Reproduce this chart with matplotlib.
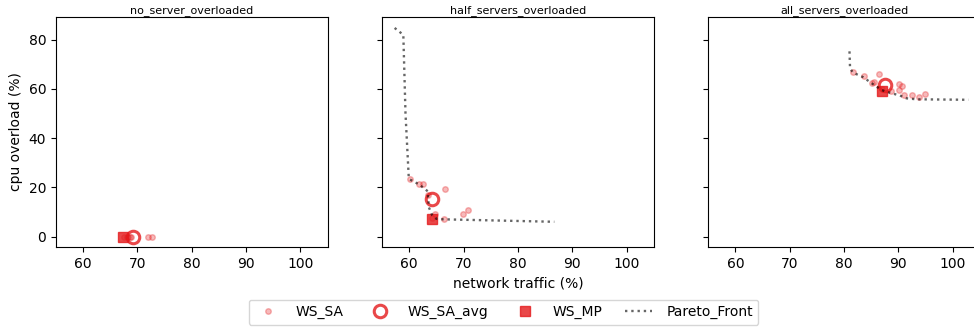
import matplotlib
matplotlib.use('Agg')
import matplotlib.pyplot as plt
from matplotlib.lines import Line2D

titles = ['no_server_overloaded', 'half_servers_overloaded', 'all_servers_overloaded']

# WS_SA single runs (network traffic, cpu overload)
sa_x = [
    [67.6, 68.0, 68.3, 68.6, 68.9, 72.0, 72.6],
    [60.1, 61.8, 62.5, 66.6, 64.7, 69.9, 70.8, 64.2, 66.3, 63.5],
    [81.6, 83.6, 85.1, 85.6, 86.4, 86.9, 88.7, 90.1, 90.7, 90.1, 91.0, 92.5, 93.8, 94.9],
]
sa_y = [
    [0, 0, 0, 0, 0, 0, 0],
    [23.2, 21.2, 21.3, 19.4, 9.3, 9.3, 10.6, 7.5, 7.0, 17.0],
    [66.7, 65.1, 62.5, 62.7, 66.1, 60.0, 59.0, 62.1, 61.0, 59.4, 57.7, 57.7, 56.7, 58.1],
]

# WS_SA average
avg_x = [69.1, 64.1, 87.6]
avg_y = [0.0, 15.3, 61.5]

# WS_MP
mp_x = [67.4, 64.1, 86.9]
mp_y = [0.0, 7.2, 59.0]

# Pareto front
pf_x = [
    [67.4],
    [57.3, 58.9, 59.3, 59.9, 60.1, 61.8, 63.4, 63.6, 64.2, 65.0, 66.3, 86.7],
    [81.0, 81.1, 81.6, 83.5, 85.1, 86.8, 87.6, 90.3, 91.5, 93.3, 102.9],
]
pf_y = [
    [0.0],
    [84.8, 82.0, 50.0, 24.0, 23.2, 21.2, 18.4, 11.9, 8.7, 7.2, 7.0, 6.0],
    [75.3, 68.5, 66.7, 64.8, 62.3, 59.7, 59.0, 57.3, 56.2, 55.8, 55.6],
]

red = '#e41a1c'

fig = plt.figure(figsize=(9.74, 3.31), dpi=100)
axes = fig.subplots(1, 3, sharey=True)
fig.subplots_adjust(left=0.0575, right=1.006, top=0.9486, bottom=0.2538, wspace=0.201)

for i, ax in enumerate(axes):
    ax.scatter(sa_x[i], sa_y[i], s=16, color=red, alpha=0.3, zorder=2)
    ax.plot(avg_x[i], avg_y[i], 'o', ms=9, mfc='none', mec=red, mew=2.2, alpha=0.8, zorder=3)
    ax.plot(mp_x[i], mp_y[i], 's', ms=7.5, color=red, alpha=0.8, zorder=3)
    ax.plot(pf_x[i], pf_y[i], ':', color='black', alpha=0.6, lw=1.7, zorder=4)
    ax.set_title(titles[i], fontsize=8, pad=3)
    ax.set_xlim(55, 105)
    ax.set_xticks([60, 70, 80, 90, 100])
    ax.tick_params(labelsize=10)

axes[0].set_ylim(-4.25, 89.25)
axes[0].set_yticks([0, 20, 40, 60, 80])
axes[0].set_ylabel('cpu overload (%)', fontsize=10)
axes[1].set_xlabel('network traffic (%)', fontsize=10)

handles = [
    Line2D([], [], ls='none', marker='o', ms=4, color=red, alpha=0.3),
    Line2D([], [], ls='none', marker='o', ms=9, mfc='none', mec=red, mew=2.2, alpha=0.8),
    Line2D([], [], ls='none', marker='s', ms=7.5, color=red, alpha=0.8),
    Line2D([], [], ls=':', color='black', alpha=0.6, lw=1.7),
]
labels = ['WS_SA', 'WS_SA_avg', 'WS_MP', 'Pareto_Front']
fig.legend(handles, labels, loc='center', bbox_to_anchor=(0.517, 0.057), ncol=4,
           fontsize=10, columnspacing=1.6, handletextpad=1.0, borderpad=0.4)

fig.savefig('out.png', dpi=100)
